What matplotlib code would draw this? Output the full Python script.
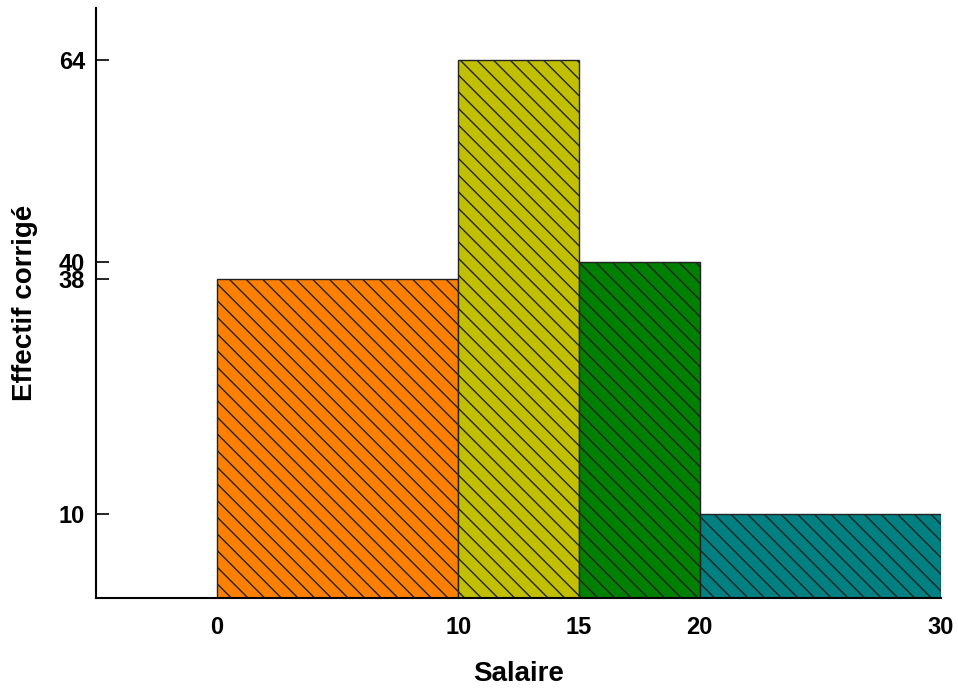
import matplotlib
matplotlib.use('Agg')
import matplotlib.pyplot as plt

# classes de salaire et effectifs corrigés
bornes = [0, 10, 15, 20, 30]
effectifs = [38, 64, 40, 10]
couleurs = ['#FF8000', '#C0C000', '#008000', '#008080']
yticks = [10, 38, 40, 64]

plt.rcParams['font.family'] = ['Liberation Sans', 'DejaVu Sans']
plt.rcParams['font.weight'] = 'bold'
plt.rcParams['hatch.linewidth'] = 1.0

fig = plt.figure(figsize=(9.58, 6.88), dpi=100)
ax = fig.add_axes([0.1002, 0.1308, 0.8821, 0.8576])

for i in range(len(effectifs)):
    g, d = bornes[i], bornes[i + 1]
    ax.bar(g, effectifs[i], width=d - g, align='edge', color=couleurs[i],
           edgecolor='#222222', linewidth=1.0, hatch='\\\\')

ax.set_xlim(-5, 30)
ax.set_ylim(0, 70.2)
ax.set_xticks(bornes)
ax.set_yticks(yticks)
ax.tick_params(axis='x', length=0, pad=13, labelsize=17)
ax.tick_params(axis='y', direction='in', length=9, width=1.2, pad=8, labelsize=17)
for lab in ax.get_xticklabels() + ax.get_yticklabels():
    lab.set_fontweight('bold')

ax.spines['top'].set_visible(False)
ax.spines['right'].set_visible(False)
ax.spines['left'].set_linewidth(1.5)
ax.spines['bottom'].set_linewidth(1.5)

ax.set_xlabel('Salaire', fontsize=20, fontweight='bold', labelpad=16)
ax.set_ylabel('Effectif corrigé', fontsize=20, fontweight='bold', labelpad=15)

plt.savefig('out.png', dpi=100)
